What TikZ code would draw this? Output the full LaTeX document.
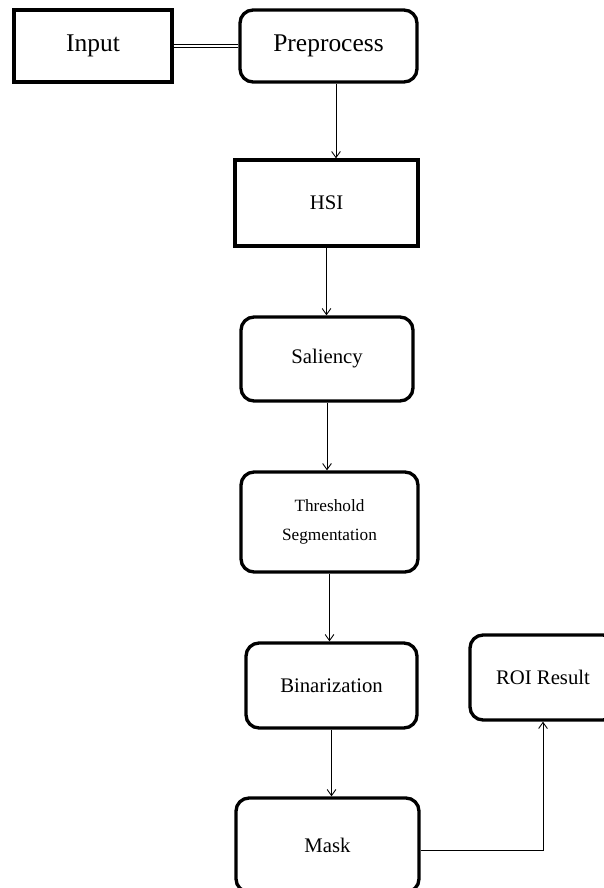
\documentclass[tikz,border=0pt]{standalone}
\usepackage{fontspec}
\setmainfont{Liberation Serif}
\usetikzlibrary{arrows.meta}

\begin{document}
\begin{tikzpicture}[x=0.02cm,y=-0.02cm,>={Straight Barb[length=3.5pt,width=5pt]},line width=0.5pt,
  box node/.style={draw,line width=1.9pt,align=center,inner sep=0pt,
    font=\fontsize{11.8}{13}\selectfont},
  round node/.style={box node,rounded corners=0.26cm}]
  \useasboundingbox (0,0) rectangle (604,888);
  \clip (0,0) rectangle (604,888);
  \node[box node,minimum width=3.16cm,minimum height=1.44cm,
    font=\fontsize{14.5}{16}\selectfont] (in) at (93,46) {Input};
  \node[round node,minimum width=3.54cm,minimum height=1.44cm,
    font=\fontsize{14.5}{16}\selectfont] (pre) at (328.5,46) {Preprocess};
  \node[box node,minimum width=3.66cm,minimum height=1.72cm] (hsi) at (326.5,203) {HSI};
  \node[round node,minimum width=3.44cm,minimum height=1.68cm] (sal) at (327,359) {Saliency};
  \node[round node,minimum width=3.54cm,minimum height=2cm,
    font=\fontsize{9.8}{16.5}\selectfont] (thr) at (329.5,522) {Threshold\\Segmentation};
  \node[round node,minimum width=3.42cm,minimum height=1.7cm] (bin) at (331.5,685.5) {Binarization};
  \node[round node,minimum width=3.66cm,minimum height=1.88cm] (mask) at (327.5,845) {Mask};
  \node[round node,minimum width=2.92cm,minimum height=1.7cm] (roi) at (543,677.5) {ROI Result};
  \draw[double,double distance=1pt,line width=0.9pt] (in) -- (pre);
  \path[->]
    ([xshift=0.15cm]pre.south) edge ([xshift=0.15cm]pre.south |- hsi.north)
    (hsi.south) edge (hsi.south |- sal.north)
    (sal.south) edge (sal.south |- thr.north)
    (thr.south) edge (thr.south |- bin.north)
    (bin.south) edge (bin.south |- mask.north);
  \draw[->] ([yshift=-0.1cm]mask.east) -| (roi);
\end{tikzpicture}
\end{document}
